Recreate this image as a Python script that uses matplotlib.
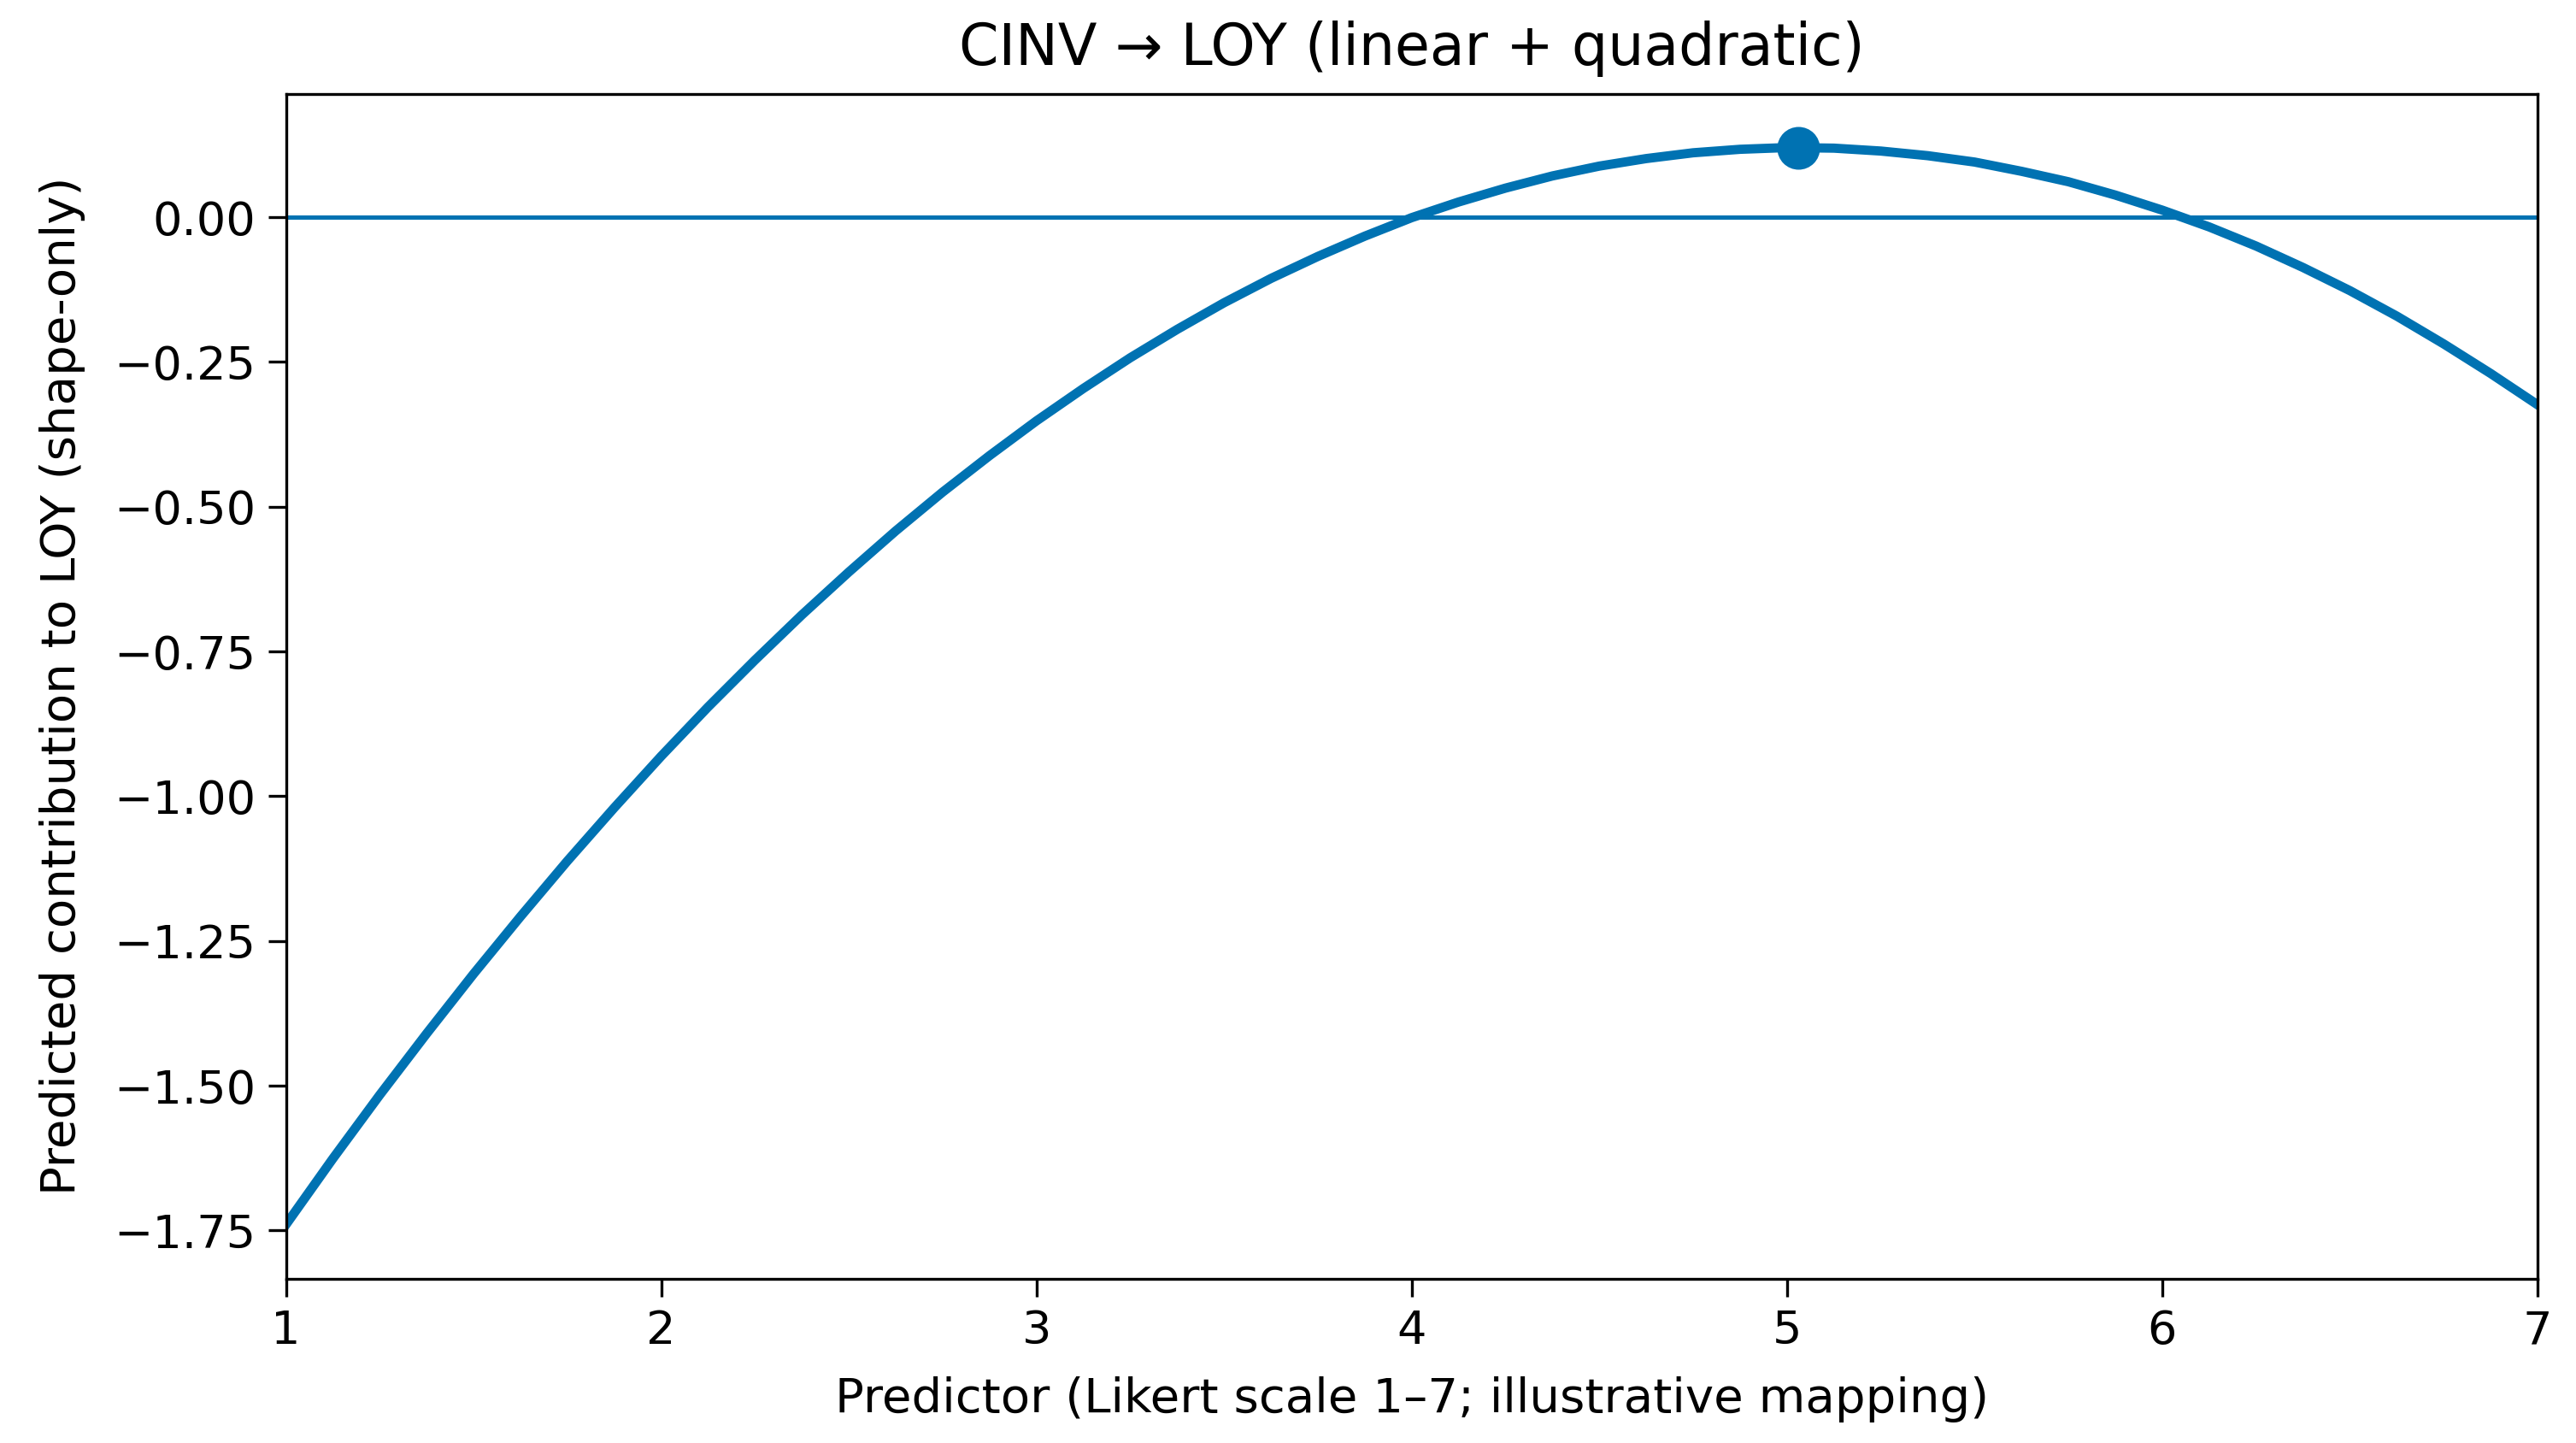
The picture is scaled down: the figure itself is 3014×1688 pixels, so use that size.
import matplotlib.pyplot as plt

# values (predictor, predicted contribution)
predictor = [1.000, 1.125, 1.250, 1.375, 1.500, 1.625, 1.750, 1.875,
             2.000, 2.125, 2.250, 2.375, 2.500, 2.625, 2.750, 2.875,
             3.000, 3.125, 3.250, 3.375, 3.500, 3.625, 3.750, 3.875,
             4.000, 4.125, 4.250, 4.375, 4.500, 4.625, 4.750, 4.875,
             5.000, 5.125, 5.250, 5.375, 5.500, 5.625, 5.750, 5.875,
             6.000, 6.125, 6.250, 6.375, 6.500, 6.625, 6.750, 6.875, 7.000]
contribution = [-1.740, -1.626, -1.516, -1.410, -1.307, -1.208, -1.112, -1.020,
                -0.931, -0.846, -0.765, -0.687, -0.613, -0.542, -0.475, -0.412,
                -0.352, -0.296, -0.243, -0.194, -0.148, -0.106, -0.068, -0.033,
                -0.001, 0.026, 0.050, 0.071, 0.088, 0.101, 0.111, 0.117,
                0.120, 0.119, 0.114, 0.106, 0.095, 0.079, 0.061, 0.038,
                0.012, -0.017, -0.050, -0.087, -0.127, -0.171, -0.219, -0.270, -0.324]
peak_x = [5.03]
peak_y = [0.120]
x_ticks = [1, 2, 3, 4, 5, 6, 7]

blue = "#0072B2"

fig, ax = plt.subplots(figsize=(10.047, 5.627), dpi=300)
ax.plot(predictor, contribution, color=blue, lw=2.6, solid_joinstyle="round")
ax.axhline(0, color=blue, lw=1.2)
ax.plot(peak_x, peak_y, "o", color=blue, ms=11)

ax.set_xlim(1, 7)
ax.set_xticks(x_ticks)
ax.tick_params(labelsize=13, length=5)
ax.set_title("CINV \u2192 LOY (linear + quadratic)", fontsize=16, pad=8)
ax.set_xlabel("Predictor (Likert scale 1\u20137; illustrative mapping)", fontsize=13.5, labelpad=6.5)
ax.set_ylabel("Predicted contribution to LOY (shape-only)", fontsize=13.5, labelpad=8)

plt.subplots_adjust(left=0.111, right=0.985, top=0.935, bottom=0.114)
fig.savefig("out.png")
